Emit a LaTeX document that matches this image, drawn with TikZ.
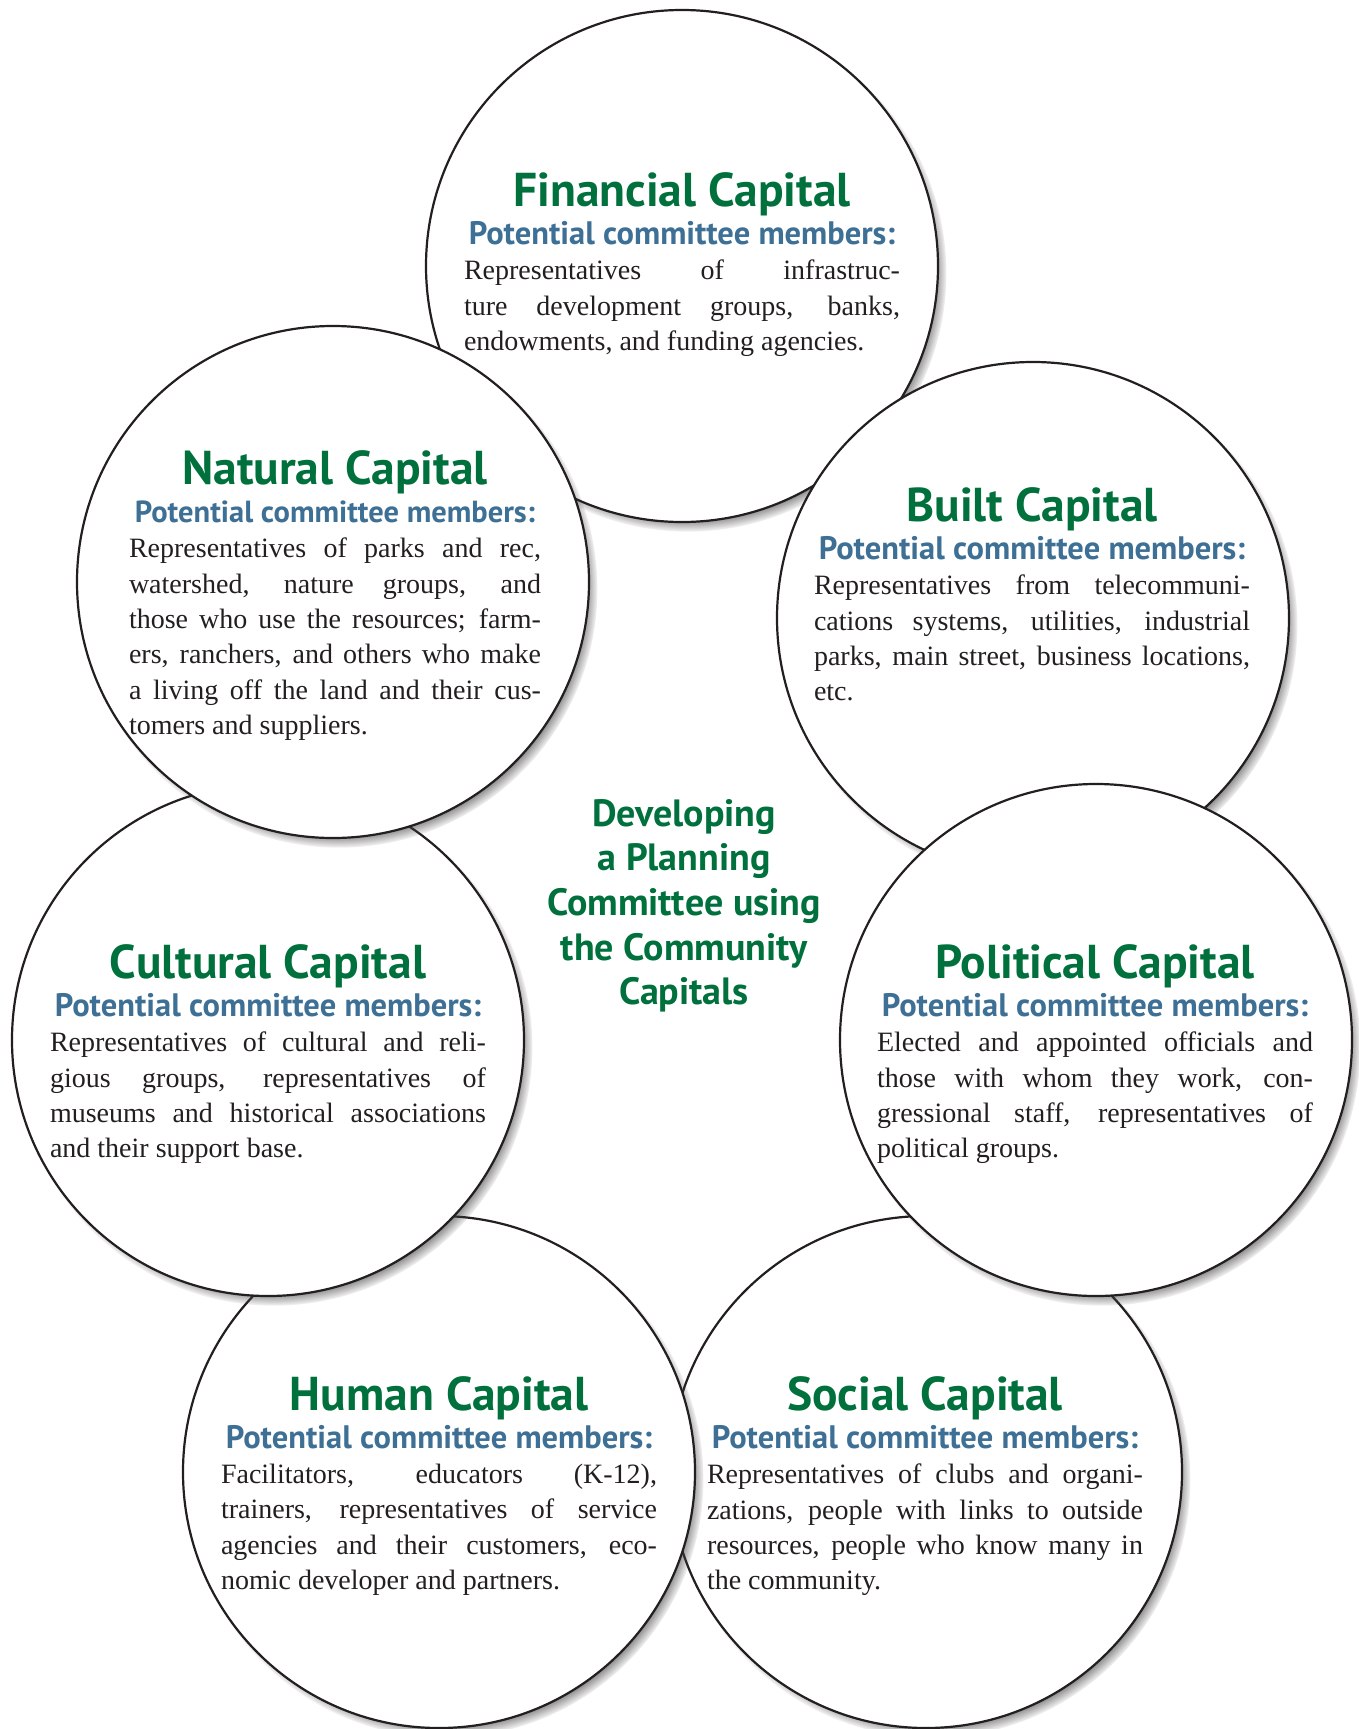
\documentclass[tikz,border=0pt]{standalone}
\usepackage{fontspec}
\setmainfont{Liberation Serif}
\newfontfamily\headfont{PT Sans}
\usetikzlibrary{shadows,fadings}

\definecolor{capgreen}{RGB}{0,112,60}
\definecolor{capblue}{RGB}{62,112,150}
\definecolor{inkblack}{RGB}{35,31,32}

% soft edge for the circle shadows
\pgfdeclareradialshading{rimshade}{\pgfpointorigin}{color(0bp)=(pgftransparent!0); color(23.75bp)=(pgftransparent!0); color(25bp)=(pgftransparent!100); color(50bp)=(pgftransparent!100)}
\pgfdeclarefading{softrim}{\pgfuseshading{rimshade}}

\tikzset{
	capital/.style={circle, draw=inkblack, line width=2.2pt, fill=white, minimum size=512pt, inner sep=0pt,
		circular drop shadow={shadow xshift=6pt, shadow yshift=-7pt, shadow scale=1.01, opacity=.6, fill=black!75, path fading=softrim}},
	captitle/.style={anchor=base, inner sep=0pt, text=capgreen, font=\headfont\bfseries\fontsize{47.5}{47.5}\selectfont},
	capsub/.style={anchor=base, inner sep=0pt, text=capblue, font=\headfont\bfseries\fontsize{#1}{#1}\selectfont},
	capsub/.default=32.5,
	capbody/.style={anchor=north, inner sep=0pt, text width=#1, align=justify, text=inkblack, font=\fontsize{28}{35.3}\selectfont},
	capbody/.default=436pt,
	hubtext/.style={anchor=north, inner sep=0pt, align=center, text=capgreen, font=\headfont\bfseries\fontsize{38}{44.6}\selectfont}
}

\begin{document}
% forced line ends only, no extra breaks
\tolerance=10000
\hyphenpenalty=10000
\begin{tikzpicture}[x=1pt, y=-1pt]
	%%%%% START %%%%%
	\useasboundingbox (0,0) rectangle (1358,1729);
	
	% financial
	\node[capital] (fin) at (682,266) {};
	\node[captitle] (fintitle) at (682,206) {Financial Capital};
	\node[capsub] (finsub) at (682,244) {Potential committee members:};
	\node[capbody] (finbody) at (682,260) {Representatives of infrastruc-\linebreak ture development groups, banks,\linebreak endowments, and funding agencies.};
	
	% social
	\node[capital] (soc) at (926,1472) {};
	\node[captitle] (soctitle) at (925,1410) {Social Capital};
	\node[capsub] (socsub) at (925,1448) {Potential committee members:};
	\node[capbody] (socbody) at (925,1464) {Representatives of clubs and organi-\linebreak zations, people with links to outside\linebreak resources, people who know many in\linebreak the community.};
	
	% human
	\node[capital] (hum) at (439,1472) {};
	\node[captitle] (humtitle) at (439,1410) {Human Capital};
	\node[capsub] (humsub) at (439,1448) {Potential committee members:};
	\node[capbody] (humbody) at (439,1464) {Facilitators, educators (K-12),\linebreak trainers, representatives of service\linebreak agencies and their customers, eco-\linebreak nomic developer and partners.};
	
	% cultural
	\node[capital] (cul) at (268,1040) {};
	\node[captitle] (cultitle) at (268,978) {Cultural Capital};
	\node[capsub] (culsub) at (268,1016) {Potential committee members:};
	\node[capbody] (culbody) at (268,1032) {Representatives of cultural and reli-\linebreak gious groups, representatives of\linebreak museums and historical associations\linebreak and their support base.};
	
	% natural
	\node[capital] (nat) at (333,582) {};
	\node[captitle] (nattitle) at (335,484) {Natural Capital};
	\node[capsub=30.5] (natsub) at (335,522) {Potential committee members:};
	\node[capbody=412pt] (natbody) at (335,538) {Representatives of parks and rec,\linebreak watershed, nature groups, and\linebreak those who use the resources; farm-\linebreak ers, ranchers, and others who make\linebreak a living off the land and their cus-\linebreak tomers and suppliers.};
	
	% built
	\node[capital] (blt) at (1033,618) {};
	\node[captitle] (blttitle) at (1032,521) {Built Capital};
	\node[capsub] (bltsub) at (1032,559) {Potential committee members:};
	\node[capbody] (bltbody) at (1032,575) {Representatives from telecommuni-\linebreak cations systems, utilities, industrial\linebreak parks, main street, business locations,\linebreak etc.};
	
	% political
	\node[capital] (pol) at (1096,1040) {};
	\node[captitle] (poltitle) at (1095,978) {Political Capital};
	\node[capsub] (polsub) at (1095,1016) {Potential committee members:};
	\node[capbody] (polbody) at (1095,1032) {Elected and appointed officials and\linebreak those with whom they work, con-\linebreak gressional staff, representatives of\linebreak political groups.};
	
	\node[hubtext] (hub) at (684,799) {Developing\\a Planning\\Committee using\\the Community\\Capitals};
	
	%%%%% END %%%%%
\end{tikzpicture}
\end{document}
